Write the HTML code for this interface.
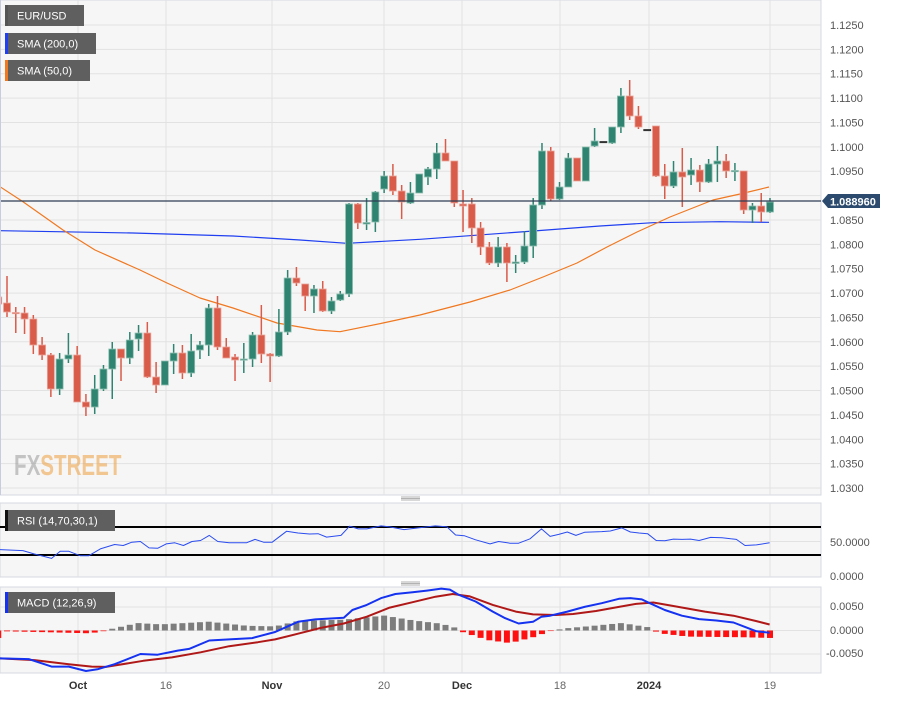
<!DOCTYPE html>
<html><head><meta charset="utf-8"><style>
body{margin:0;background:#fff;width:898px;height:697px;overflow:hidden;font-family:"Liberation Sans",sans-serif}
</style></head><body>
<svg id="s" width="898" height="697" xmlns="http://www.w3.org/2000/svg" font-family="Liberation Sans, sans-serif"></svg>
<script>
const S=document.getElementById('s');let h='';
const R=(x,y,w,hh,f,extra='')=>h+=`<rect x="${x}" y="${y}" width="${w}" height="${hh}" fill="${f}" ${extra}/>`;
const L=(x1,y1,x2,y2,c,w=1)=>h+=`<line x1="${x1}" y1="${y1}" x2="${x2}" y2="${y2}" stroke="${c}" stroke-width="${w}"/>`;
const T=(x,y,t,c,sz=11,extra='')=>h+=`<text x="${x}" y="${y}" fill="${c}" font-size="${sz}" ${extra}>${t}</text>`;
R(0,0,821,495,'#f6f6f6','stroke="#d5d8e2"');
R(0,503,821,74,'#f6f6f6','stroke="#d5d8e2"');
R(0,587,821,86,'#f6f6f6','stroke="#d5d8e2"');
const vx=[78,166,272,384,462,560,649,770];
const gc='#e2e2e2';
for(let k=0;k<20;k++){const y=25+k*24.37;L(0,y,821,y,gc);}
vx.forEach(x=>{L(x,0,x,495,gc);L(x,503,x,577,gc);L(x,587,x,673,gc);});
L(0,541.5,821,541.5,gc);L(0,607,821,607,gc);L(0,630.5,821,630.5,gc);L(0,654,821,654,gc);
h+=`<text x="14" y="475" font-size="29" font-weight="bold" fill="#9a9a9a" opacity="0.55" transform="translate(14,475) scale(0.71,1) translate(-14,-475)">FX<tspan fill="#f0a040">STREET</tspan></text>`;
const pl=['1.1250','1.1200','1.1150','1.1100','1.1050','1.1000','1.0950','1.0900','1.0850','1.0800','1.0750','1.0700','1.0650','1.0600','1.0550','1.0500','1.0450','1.0400','1.0350','1.0300'];
pl.forEach((t,k)=>{if(k!=7)T(830,25+k*24.37+4,t,'#555',11);});
const poly=(pts,c,w)=>h+=`<polyline points="${pts.map(p=>p.join(',')).join(' ')}" fill="none" stroke="${c}" stroke-width="${w}" stroke-linejoin="round"/>`;
poly([[0,230.7],[133,233],[233,236],[300,240],[347,243.3],[420,239.3],[520,232],[600,226],[653,222.7],[720,221.7],[769,222.3]],'#1f3ff0',1.2);
poly([[0,186.7],[23,201.7],[63,230],[95,250],[140,270],[167,283],[200,298],[233,308],[277,323],[317,330],[340,331.7],[383,323],[420,315],[470,302],[510,290],[543,277],[577,263],[607,247],[637,232],[670,217],[713,200],[740,194],[769,187]],'#f07820',1.2);
const C=[[297,304,284,305,'r'],[303,312,276,317,'r'],[312.5,313.5,307,333,'r'],[313,319,307,334,'r'],[319,345,315,354,'r'],[345,355,337,360,'r'],[355,389,353,397,'r'],[359,389,353,395,'g'],[355,359,333,363,'g'],[355,402,346,402,'r'],[402,407,394,416,'r'],[389,407,375,414,'g'],[369,389,365,391,'g'],[349,369,342,399,'g'],[349,358,349,381,'r'],[340,358,332,364,'g'],[333,339,325,351,'g'],[333,377,322,378,'r'],[377,385,362,393,'r'],[361,385,361,385,'g'],[353,361,344,374,'g'],[353,373,345,379,'r'],[351,373,334,377,'g'],[345,350,341,359,'g'],[308,345,304,356,'g'],[308,347,296,350,'r'],[347,358,338,358,'r'],[357,360,354,381,'r'],[359,360,343,373,'g'],[335,359,332,367,'g'],[335,354,305,363,'r'],[354,356,353,382,'r'],[332,356,309,357,'g'],[278,332,270,335,'g'],[278,283,267,286,'r'],[284,296,284,311,'r'],[289,296,285,313,'g'],[289,311,281,312,'r'],[301,311,297,314,'g'],[294,300,291,301,'g'],[204,294,203,297,'g'],[204,223,203,229,'r'],[222.5,224,198,230,'g'],[192,222,191,232,'g'],
[176,189,171,193,'g'],[176,191,164,195,'r'],[191,202,185,219,'r'],[193,203,182,204,'g'],
[174,193,174,193,'g'],[169,177,167,185,'g'],[153,169,143,179,'g'],[153,161,139,161,'r'],[161,203,161,207,'r'],[204,206,190,232,'r'],[204,228,198,243,'r'],[228,247,222,255,'r'],[247,263,242,265,'r'],[247,263,237,267,'g'],[247,263,243,282,'r'],[262,263.5,255,273,'g'],[246,262,231,264,'g'],[205,246,198,258,'g'],[151,205,143,209,'g'],[151,199,147,201,'r'],[187,199,182,200,'g'],[158,187,153,187,'g'],[158,181,158,181,'r'],[147,181,147,181,'g'],[141,146,128,147,'g'],[141.5,142.5,141.5,142.5,'k'],[127,143,127,144,'g'],[96,127,88,133,'g'],[96,116,80,120,'r'],[116,127,106,129,'r'],[129.5,130.5,129.5,130.5,'k'],[126,176,126,177,'r'],[176,186,164,199,'r'],[172,186,161,188,'g'],[172,177,148,207,'r'],[170,175,158,185,'g'],[170,182,165,192,'r'],[164,182,159,183,'g'],[161,164,146,182,'g'],[161,171,154,178,'r'],[170.5,171.5,163,181,'g'],[171,210,171,214,'r'],[206,210,203,223,'g'],[206,212,193,222,'r'],[202,212,198,213,'g']];
const N=C.length,sp=8.77;
const xs=i=>770-(N-1-i)*sp;
C.forEach((c,i)=>{const x=xs(i);const col=c[4]=='g'?'#2f8471':c[4]=='r'?'#d95b49':'#333';const bc=c[4]=='g'?'#8fbfb2':c[4]=='r'?'#eaa59c':'#333';
L(x,c[2],x,c[3],col,1.5);R(x-3.5,c[0],7,Math.max(1.2,c[1]-c[0]),col,`stroke="${bc}" stroke-width="0.8"`);});
L(0,201,821,201,'#2c3e55',1.2);
h+=`<polygon points="822,201 828,194 880,194 880,208 828,208" fill="#2b4a6e"/>`;
T(830,205.5,'1.088960','#fff',11,'font-weight="bold"');
const leg=(x,y,w,t,ac)=>{R(x,y,w,21,'#5f5f5f');R(x,y,3,21,ac);T(x+12,y+14.5,t,'#fff',11);};
leg(5,5,79,'EUR/USD','#555');leg(5,33,91,'SMA (200,0)','#1f3ff0');leg(5,60,85,'SMA (50,0)','#f07820');
R(0,496,821,6,'#fff');R(0,578,821,8,'#fff');
[498.5,583.5].forEach(y=>{[-1.5,0,1.5].forEach(d=>L(401,y+d,420,y+d,'#666',0.6));});
L(0,527,821,527,'#000',2);L(0,555,821,555,'#000',2);
const rz=[[0,167],[40,170],[60,180],[90,193],[105,172],[120,172],[140,185],[155,185],[175,165],[200,152],[215,155],[230,145],[245,143],[260,162],[275,163],[290,150],[305,147],[320,155],[335,143],[350,140],[365,125],[380,143],[400,147],[430,147],[445,137],[460,145],[475,145],[500,113],[520,118],[540,121],[555,120],[570,130],[595,125],[610,98],[625,106],[640,106],[665,97],[680,100],[705,108],[730,103],[760,97],[780,100],[795,124],[810,126],[830,138],[855,150],[870,143],[890,148],[905,148],[925,135],[945,106],[960,128],[975,122],[990,115],[1005,125],[1020,116],[1050,114],[1065,112],[1085,103],[1100,115],[1115,118],[1130,120],[1145,140],[1160,141],[1175,136],[1190,137],[1205,136],[1220,140],[1240,131],[1260,132],[1275,135],[1285,137],[1300,155],[1320,153],[1343,147]];
const cv=p=>[ (p[0]/1.745).toFixed(1), (493+p[1]*0.339).toFixed(1)];
poly(rz.map(cv),'#2a4cf0',1);
leg(5,510,110,'RSI (14,70,30,1)','#111');
T(830,546,'50.0000','#555',11);T(830,580,'0.0000','#555',11);
const hz=[[0,-2],[80,-5],[150,-8],[175,-5],[190,3],[240,22],[280,18],[365,26],[430,14],[480,12],[520,28],[600,32],[670,44],[720,30],[770,20],[795,8],[808,-5],[850,-28],[890,-37],[930,-20],[960,-2],[985,6],[1030,13],[1085,22],[1130,10],[1150,-8],[1200,-18],[1300,-20],[1343,-22]];
const interp=zx=>{for(let k=0;k<hz.length-1;k++){if(zx>=hz[k][0]&&zx<=hz[k+1][0]){const t=(zx-hz[k][0])/(hz[k+1][0]-hz[k][0]);return hz[k][1]+t*(hz[k+1][1]-hz[k][1]);}}return hz[hz.length-1][1];};
for(let i=0;i<N;i++){const x=xs(i);const v=interp(x*1.745)*0.339;if(v>=0)R(x-3,630.5-v,6,v,'#7d7d7d');else R(x-3,630.5,6,-v,'#ff1010');}
const bz=[[0,488],[50,490],[90,512],[120,512],[150,525],[170,520],[200,505],[245,475],[275,477],[310,465],[330,460],[365,435],[400,432],[440,428],[480,410],[500,395],[520,380],[550,373],[600,368],[615,345],[640,330],[665,310],[690,298],[720,293],[745,288],[770,282],[785,285],[800,300],[830,320],[860,350],[880,368],[905,385],[930,380],[945,365],[960,362],[990,350],[1020,336],[1050,325],[1080,312],[1100,310],[1120,314],[1130,322],[1160,345],[1190,362],[1220,372],[1250,376],[1280,382],[1300,395],[1320,408],[1343,412]];
const rdz=[[0,488],[60,493],[120,505],[160,512],[185,513],[250,495],[300,485],[350,470],[400,452],[450,440],[480,432],[520,415],[560,398],[600,385],[640,365],[680,338],[720,322],[760,306],[790,298],[820,305],[860,330],[900,350],[930,358],[970,360],[1000,357],[1040,348],[1080,336],[1110,327],[1140,323],[1170,332],[1230,350],[1280,362],[1320,378],[1343,388]];
poly(rdz.map(cv),'#b01818',2);
poly(bz.map(cv),'#1432f0',2);
leg(5,592,110,'MACD (12,26,9)','#1432f0');
T(830,610,'0.0050','#555',11);T(830,634,'0.0000','#555',11);T(826,657,'-0.0050','#555',11);
[['Oct',78,1],['16',166,0],['Nov',272,1],['20',384,0],['Dec',462,1],['18',560,0],['2024',649,1],['19',770,0]].forEach(a=>T(a[1],689,a[0],a[2]?'#333':'#666',11,`text-anchor="middle" ${a[2]?'font-weight="bold"':''}`));
L(0.5,0,0.5,495,'#c8cce0',1);
S.innerHTML=h;
</script>
</body></html>
